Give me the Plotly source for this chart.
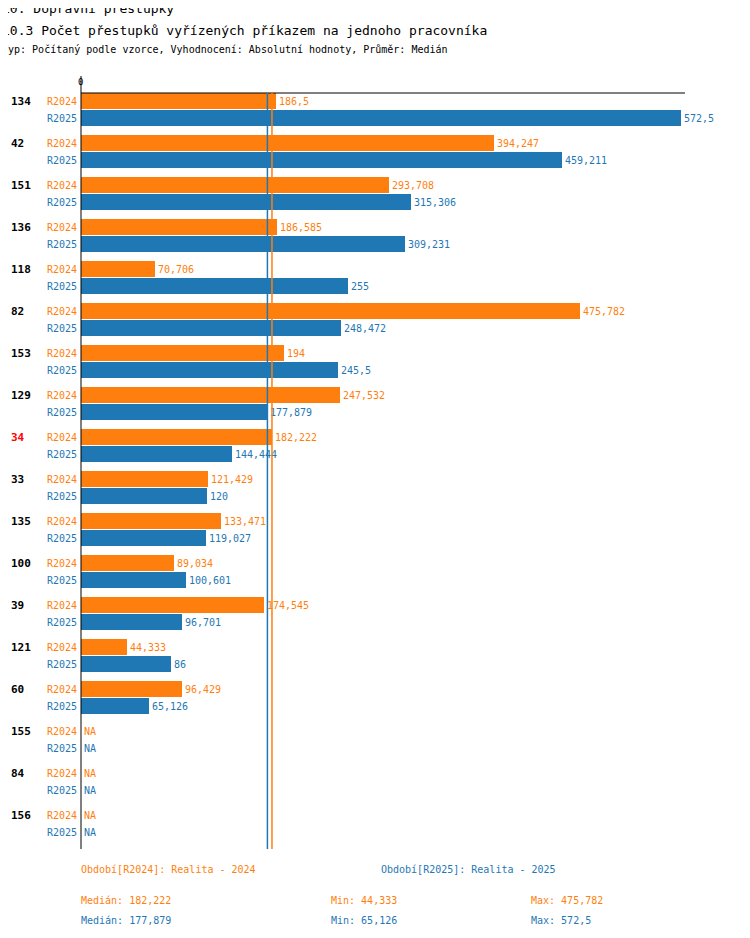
import plotly.graph_objects as go

# data
groups = ["134", "42", "151", "136", "118", "82", "153", "129", "34", "33",
          "135", "100", "39", "121", "60", "155", "84", "156"]
r2024 = [186.5, 394.247, 293.708, 186.585, 70.706, 475.782, 194, 247.532, 182.222,
         121.429, 133.471, 89.034, 174.545, 44.333, 96.429, None, None, None]
r2025 = [572.5, 459.211, 315.306, 309.231, 255, 248.472, 245.5, 177.879, 144.444,
         120, 119.027, 100.601, 96.701, 86, 65.126, None, None, None]
highlight = "34"
median24, median25 = 182.222, 177.879

ORANGE = "#ff7f0e"
BLUE = "#1f77b4"
FONT = "DejaVu Sans Mono"

OFF = 8  # page body margin
W, H = 750 - OFF, 938 - OFF
TOP, BOT, LEFT, RIGHT = 93 - OFF, 849 - OFF, 81 - OFF, 685 - OFF
GH = 42  # px per group
XMAX = (RIGHT - LEFT) / 1.048

def fmt(v):
    if v is None:
        return "NA"
    s = ("%.3f" % v).rstrip("0").rstrip(".")
    return s.replace(".", ",")

def py(p):
    return (BOT - (p - OFF)) / (BOT - TOP)

def px(p):
    return ((p - OFF) - LEFT) / (RIGHT - LEFT)

y24 = [i * GH + 8 for i in range(len(groups))]
y25 = [i * GH + 25 for i in range(len(groups))]

fig = go.Figure()
for vals, ys, col in [(r2024, y24, ORANGE), (r2025, y25, BLUE)]:
    fig.add_trace(go.Bar(
        x=[v if v is not None else 0 for v in vals], y=ys, orientation="h",
        width=16, marker_color=col, marker_line_width=0,
        text=[fmt(v) for v in vals], textposition="outside", cliponaxis=False,
        textfont=dict(color=col, size=10, family=FONT), showlegend=False))

ann = []
for i, g in enumerate(groups):
    ann.append(dict(x=px(9), y=y24[i], xref="paper", yref="y", text="<b>%s</b>" % g,
                    xanchor="left", showarrow=False,
                    font=dict(color="red" if g == highlight else "black", size=11)))
    ann.append(dict(x=px(79), y=y24[i], xref="paper", yref="y", text="R2024",
                    xanchor="right", showarrow=False, font=dict(color=ORANGE, size=10)))
    ann.append(dict(x=px(79), y=y25[i], xref="paper", yref="y", text="R2025",
                    xanchor="right", showarrow=False, font=dict(color=BLUE, size=10)))

def txt(x, y, t, col="black", size=10):
    ann.append(dict(x=px(x), y=py(y), xref="paper", yref="paper", text=t,
                    xanchor="left", yanchor="middle", showarrow=False,
                    font=dict(color=col, size=size)))

txt(0, 9, "10. Dopravní přestupky", size=13)
txt(0, 30, "10.3 Počet přestupků vyřízených příkazem na jednoho pracovníka", size=13)
txt(0, 50, "Typ: Počítaný podle vzorce, Vyhodnocení: Absolutní hodnoty, Průměr: Medián", size=10)
txt(76, 82, "0", size=9)
txt(79, 870, "Období[R2024]: Realita - 2024", ORANGE)
txt(379, 870, "Období[R2025]: Realita - 2025", BLUE)
vals24 = [v for v in r2024 if v is not None]
vals25 = [v for v in r2025 if v is not None]
for yy, vals, med, col in [(900, vals24, median24, ORANGE), (920, vals25, median25, BLUE)]:
    txt(79, yy, "Medián: " + fmt(med), col)
    txt(329, yy, "Min: " + fmt(min(vals)), col)
    txt(529, yy, "Max: " + fmt(max(vals)), col)

shapes = [
    dict(type="line", xref="paper", yref="paper", x0=0, x1=1, y0=1, y1=1,
         line=dict(color="black", width=1)),
    dict(type="line", xref="paper", yref="paper", x0=0, x1=0, y0=0, y1=py(76),
         line=dict(color="black", width=1)),
    dict(type="line", xref="x", yref="paper", x0=median24, x1=median24, y0=0, y1=1,
         line=dict(color=ORANGE, width=1.5)),
    dict(type="line", xref="x", yref="paper", x0=median25, x1=median25, y0=0, y1=1,
         line=dict(color=BLUE, width=1.5)),
]

fig.update_layout(
    width=W, height=H, plot_bgcolor="white", paper_bgcolor="white",
    margin=dict(l=LEFT, r=W - RIGHT, t=TOP, b=H - BOT),
    font=dict(family=FONT, size=11, color="black"),
    xaxis=dict(range=[0, XMAX], showgrid=False, zeroline=False, showticklabels=False),
    yaxis=dict(range=[len(groups) * GH, 0], showgrid=False, zeroline=False,
               showticklabels=False),
    annotations=ann, shapes=shapes, bargap=0,
)
fig.write_html("out.html")
